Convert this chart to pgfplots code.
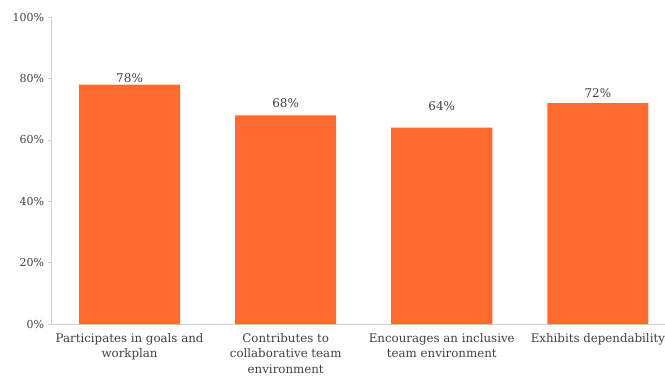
\documentclass[border=0pt]{standalone}
\usepackage{pgfplots}
\pgfplotsset{compat=1.18}
\usepackage{fontspec}
\setmainfont{DejaVu Serif}
\definecolor{barc}{HTML}{FF6B2C}
\definecolor{txt}{HTML}{404040}
\definecolor{axc}{HTML}{D0D0D0}
\begin{document}
\begin{tikzpicture}
\begin{axis}[
  scale only axis,
  width=613pt, height=307pt,
  xmin=-0.5, xmax=3.43,
  ymin=0, ymax=100,
  ytick={0,20,40,60,80,100},
  yticklabel={\pgfmathprintnumber{\tick}\%},
  /pgf/number format/assume math mode=true,
  xtick={0,1,2,3},
  xticklabels={{Participates in goals and\\workplan}, {Contributes to\\collaborative team\\environment}, {Encourages an inclusive\\team environment}, {Exhibits dependability}},
  extra x ticks={0.5,1.5,2.5},
  extra x tick labels={},
  extra x tick style={major tick length=4pt, tick style={draw=axc}},
  x tick label style={align=center, font=\fontsize{11.8}{15.5}\selectfont, text=txt, inner sep=1pt, yshift=-4pt},
  y tick label style={font=\fontsize{11}{12}\selectfont, text=txt},
  axis x line*=bottom, axis y line*=left,
  axis line style={draw=axc, line width=0.8pt},
  x axis line style={-}, y axis line style={-},
  major x tick style={draw=none},
  ytick style={draw=axc, line width=0.8pt},
  tick align=outside,
  major tick length=4pt,
  clip=false,
]
\addplot[ybar, bar width=101pt, fill=barc, draw=none] coordinates {(0,78) (1,68) (2,64) (3,72)};
\addplot[draw=none, mark=none, point meta=explicit symbolic,
  nodes near coords, every node near coord/.append style={anchor=center, font=\fontsize{12}{14}\selectfont, text=txt}]
  coordinates {(0,80.1)[78\%] (1,72.0)[68\%] (2,71.1)[64\%] (3,75.1)[72\%]};
\end{axis}
\pgfresetboundingbox
\path[use as bounding box] ([xshift=-51.5pt,yshift=-53pt]current axis.south west) rectangle ([yshift=17pt]current axis.north east);
\end{tikzpicture}
\end{document}
